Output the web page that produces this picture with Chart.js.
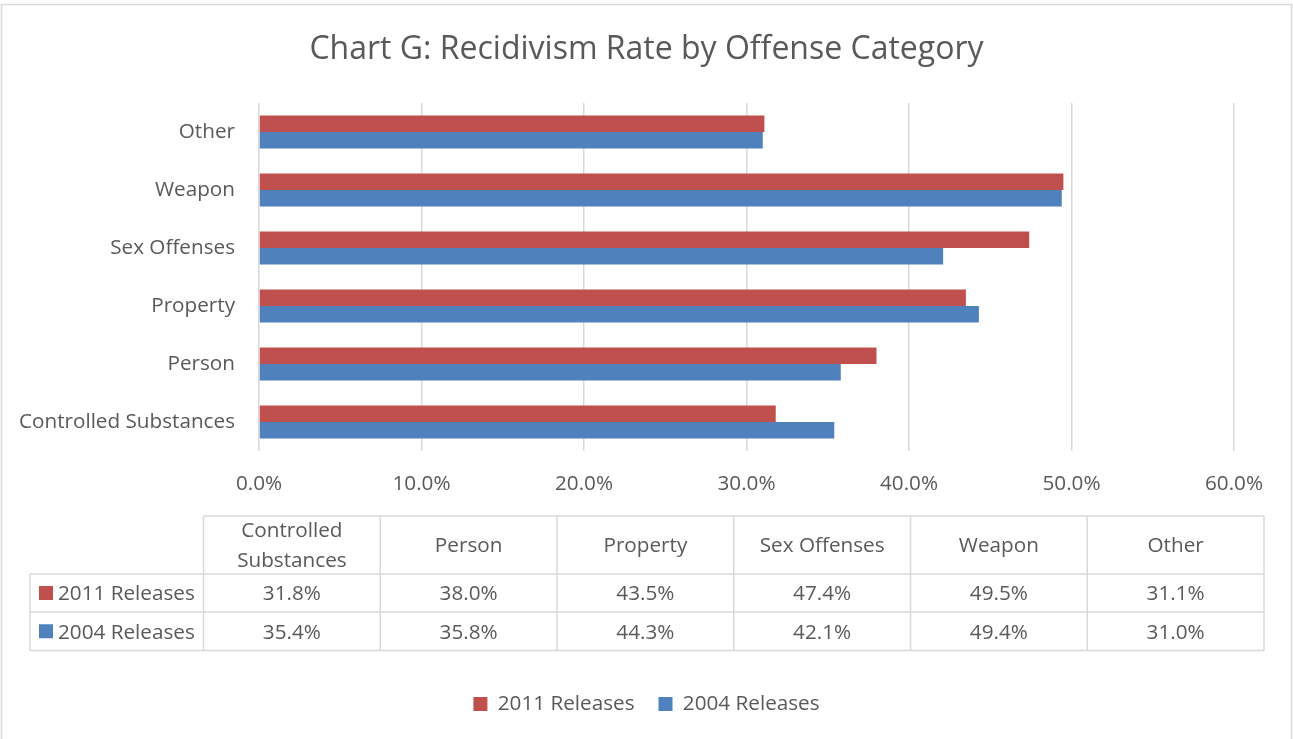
<!DOCTYPE html>
<html>
<head>
<meta charset="utf-8">
<title>Chart G: Recidivism Rate by Offense Category</title>
<script src="https://cdn.jsdelivr.net/npm/chart.js@4/dist/chart.umd.min.js"></script>
<style>
  html, body { margin: 0; padding: 0; background: #ffffff; }
  #wrap { width: 1293px; height: 739px; position: relative; }
</style>
</head>
<body>
<div id="wrap"><canvas id="chart" width="1293" height="739"></canvas></div>
<script>
// Offense categories, listed bottom-to-top on the chart (table order)
const categories = ['Controlled Substances', 'Person', 'Property', 'Sex Offenses', 'Weapon', 'Other'];
// Table header text (wrapped where the cell is too narrow)
const headerLines = [['Controlled', 'Substances'], ['Person'], ['Property'], ['Sex Offenses'], ['Weapon'], ['Other']];
// Recidivism rates in percent
const releases2011 = [31.8, 38.0, 43.5, 47.4, 49.5, 31.1];
const releases2004 = [35.4, 35.8, 44.3, 42.1, 49.4, 31.0];
const seriesNames = ['2011 Releases', '2004 Releases'];
const xTicks = [0, 10, 20, 30, 40, 50, 60];

const RED = '#C0504D';
const BLUE = '#4F81BD';
const TEXT = '#595959';
const GRID = '#D9D9D9';
const FONT = "'Open Sans', 'Liberation Sans', sans-serif";
const FS = 20.7;

const fmt = v => v.toFixed(1) + '%';

// Frame around the whole chart
const framePlugin = {
  id: 'frame',
  beforeDraw(chart) {
    const ctx = chart.ctx;
    ctx.save();
    ctx.fillStyle = '#ffffff';
    ctx.fillRect(0, 0, chart.width, chart.height);
    ctx.strokeStyle = GRID;
    ctx.lineWidth = 1.5;
    ctx.strokeRect(1.5, 4.5, chart.width - 3, chart.height + 10);
    ctx.restore();
  }
};

// Data table below the value axis
const dataTablePlugin = {
  id: 'dataTable',
  afterDraw(chart) {
    const ctx = chart.ctx;
    const left = 203.5, right = 1264;
    const colW = (right - left) / categories.length;
    const rows = [516, 574, 612, 650.5];
    const labelLeft = 30;
    ctx.save();
    ctx.strokeStyle = GRID;
    ctx.lineWidth = 1.5;
    ctx.beginPath();
    // horizontal rules
    ctx.moveTo(left, rows[0]); ctx.lineTo(right, rows[0]);
    for (let r = 1; r < rows.length; r++) {
      ctx.moveTo(labelLeft, rows[r]); ctx.lineTo(right, rows[r]);
    }
    // vertical rules
    ctx.moveTo(labelLeft, rows[1]); ctx.lineTo(labelLeft, rows[3]);
    for (let c = 0; c <= categories.length; c++) {
      const x = left + c * colW;
      ctx.moveTo(x, rows[0]); ctx.lineTo(x, rows[3]);
    }
    ctx.stroke();

    ctx.fillStyle = TEXT;
    ctx.font = FS + 'px ' + FONT;
    ctx.textAlign = 'center';
    ctx.textBaseline = 'middle';
    // header row
    headerLines.forEach((lines, i) => {
      const cx = left + (i + 0.5) * colW;
      const cy = (rows[0] + rows[1]) / 2 + 1.5;
      const lh = 30;
      lines.forEach((t, k) => {
        ctx.fillText(t, cx, cy + (k - (lines.length - 1) / 2) * lh);
      });
    });
    // value rows
    const series = [releases2011, releases2004];
    const colors = [RED, BLUE];
    series.forEach((vals, s) => {
      const cy = (rows[s + 1] + rows[s + 2]) / 2;
      vals.forEach((v, i) => {
        ctx.fillStyle = TEXT;
        ctx.textAlign = 'center';
        ctx.fillText(fmt(v), left + (i + 0.5) * colW, cy + 1.5);
      });
      ctx.fillStyle = colors[s];
      ctx.fillRect(39, cy - 7, 14, 14);
      ctx.fillStyle = TEXT;
      ctx.textAlign = 'left';
      ctx.fillText(seriesNames[s], 58, cy + 1.5);
    });
    ctx.restore();
  }
};

new Chart(document.getElementById('chart'), {
  type: 'bar',
  data: {
    labels: categories,
    datasets: [
      { label: seriesNames[0], data: releases2011, backgroundColor: RED, borderWidth: 0 },
      { label: seriesNames[1], data: releases2004, backgroundColor: BLUE, borderWidth: 0 }
    ]
  },
  options: {
    indexAxis: 'y',
    responsive: false,
    animation: false,
    devicePixelRatio: 1,
    datasets: { bar: { categoryPercentage: 0.57, barPercentage: 1.0 } },
    layout: { padding: { left: 0, right: 0, top: 0, bottom: 14.65 } },
    scales: {
      x: {
        min: 0,
        max: 60,
        afterBuildTicks(scale) { scale.ticks = xTicks.map(v => ({ value: v })); },
        afterFit(scale) { scale.height = 218.65; },
        grid: { color: GRID, lineWidth: 1.5, drawTicks: false },
        border: { display: false },
        ticks: {
          color: TEXT,
          font: { family: FONT, size: FS },
          padding: 21,
          callback: v => fmt(v)
        }
      },
      y: {
        reverse: true,
        afterFit(scale) { scale.width = 259; },
        grid: { display: false, drawTicks: false },
        border: { display: false },
        ticks: {
          color: TEXT,
          font: { family: FONT, size: FS },
          padding: 24
        }
      },
      // empty margin on the right of the plot
      yRight: {
        type: 'linear',
        position: 'right',
        afterFit(scale) { scale.width = 59; },
        grid: { display: false, drawTicks: false },
        border: { display: false },
        ticks: { display: false }
      }
    },
    plugins: {
      title: {
        display: true,
        text: 'Chart G: Recidivism Rate by Offense Category',
        color: TEXT,
        font: { family: FONT, size: 32, weight: 'normal', lineHeight: 1.2 },
        padding: { top: 30.8, bottom: 33.8 }
      },
      legend: {
        position: 'bottom',
        labels: {
          color: TEXT,
          font: { family: FONT, size: FS },
          boxWidth: 14,
          boxHeight: 14,
          padding: 24
        }
      },
      tooltip: { enabled: false }
    }
  },
  plugins: [framePlugin, dataTablePlugin]
});
</script>
</body>
</html>
